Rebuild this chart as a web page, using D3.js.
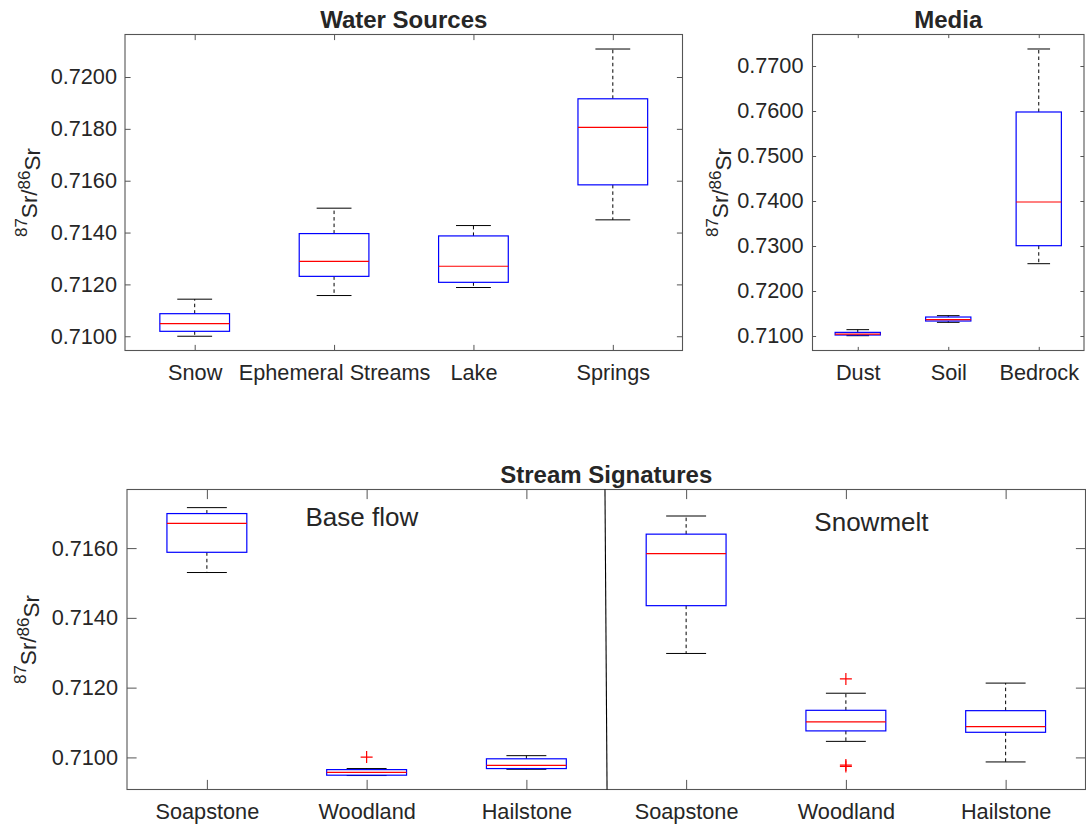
<!DOCTYPE html>
<html><head><meta charset="utf-8">
<script src="https://cdn.jsdelivr.net/npm/d3@7"></script>
<style>
html,body{margin:0;padding:0;background:#fff;}
svg{display:block;}
text{font-family:"Liberation Sans",Arial,Helvetica,sans-serif;fill:#262626;}
</style></head>
<body><svg id="c" width="1086" height="829"></svg>
<script>
// ---------- DATA ----------
// Water Sources
const wsCats = ["Snow", "Ephemeral Streams", "Lake", "Springs"];
const wsLow  = [0.71000, 0.71157, 0.71188, 0.71449];
const wsQ1   = [0.71019, 0.71231, 0.71208, 0.71584];
const wsMed  = [0.71049, 0.71289, 0.71270, 0.71806];
const wsQ3   = [0.71087, 0.71396, 0.71387, 0.71916];
const wsHigh = [0.71143, 0.71494, 0.71427, 0.72108];
const wsOut  = [[], [], [], []];
const wsTicks = [0.7100, 0.7120, 0.7140, 0.7160, 0.7180, 0.7200];
const wsDomain = [0.70945, 0.72164];

// Media
const mdCats = ["Dust", "Soil", "Bedrock"];
const mdLow  = [0.71007, 0.71304, 0.72607];
const mdQ1   = [0.71022, 0.71333, 0.73007];
const mdMed  = [0.71044, 0.71363, 0.73978];
const mdQ3   = [0.71081, 0.71422, 0.75978];
const mdHigh = [0.71141, 0.71452, 0.77378];
const mdOut  = [[], [], []];
const mdTicks = [0.7100, 0.7200, 0.7300, 0.7400, 0.7500, 0.7600, 0.7700];
const mdDomain = [0.70678, 0.77700];

// Stream Signatures (Base flow: 1-3, Snowmelt: 4-6)
const ssCats = ["Soapstone", "Woodland", "Hailstone", "Soapstone", "Woodland", "Hailstone"];
const ssLow  = [0.71530, 0.70948, 0.70966, 0.71298, 0.71046, 0.70987];
const ssQ1   = [0.71588, 0.70949, 0.70968, 0.71435, 0.71076, 0.71072];
const ssMed  = [0.71671, 0.70957, 0.70977, 0.71584, 0.71102, 0.71088];
const ssQ3   = [0.71699, 0.70965, 0.70996, 0.71640, 0.71135, 0.71134];
const ssHigh = [0.71716, 0.70968, 0.71005, 0.71692, 0.71184, 0.71213];
const ssOut  = [[], [0.71001], [], [], [0.71225, 0.70978, 0.70974], []];
const ssTicks = [0.7100, 0.7120, 0.7140, 0.7160];
const ssDomain = [0.70908, 0.71768];
const ssGroups = ["Base flow", "Snowmelt"];
const ssDivider = [3.492, 3.505]; // x at top, x at bottom

// ---------- DRAW ----------
const svg = d3.select("#c");
const AX = "#555";

function panel(o){
  const g = svg.append("g");
  const n = o.cats.length;
  const x = d3.scaleLinear().domain([0.5, n + 0.5]).range([o.x0, o.x1]);
  const y = d3.scaleLinear().domain(o.domain).range([o.y1, o.y0]);
  const tl = o.tick;
  const pos = d3.range(1, n + 1);

  const styleAxis = sel => {
    sel.select(".domain").remove();
    sel.selectAll(".tick line").attr("stroke", AX).attr("stroke-width", 1);
    sel.selectAll("text").style("font-size", "21.7px").attr("fill", "#262626");
  };
  g.append("g").attr("transform", `translate(${o.x0},0)`)
    .call(d3.axisLeft(y).tickValues(o.ticks).tickFormat(d3.format(".4f")).tickSizeInner(-tl).tickSizeOuter(0).tickPadding(o.ypad))
    .call(styleAxis);
  g.append("g").attr("transform", `translate(${o.x1},0)`)
    .call(d3.axisRight(y).tickValues(o.ticks).tickFormat("").tickSizeInner(-tl).tickSizeOuter(0))
    .call(styleAxis);
  g.append("g").attr("transform", `translate(0,${o.y1})`)
    .call(d3.axisBottom(x).tickValues(pos).tickFormat((d,i)=>o.cats[i]).tickSizeInner(-tl).tickSizeOuter(0).tickPadding(o.xpad))
    .call(styleAxis);
  g.append("g").attr("transform", `translate(0,${o.y0})`)
    .call(d3.axisTop(x).tickValues(pos).tickFormat("").tickSizeInner(-tl).tickSizeOuter(0))
    .call(styleAxis);

  g.append("rect").attr("x", o.x0).attr("y", o.y0).attr("width", o.x1 - o.x0).attr("height", o.y1 - o.y0)
    .attr("fill", "none").attr("stroke", AX).attr("stroke-width", 1.1);

  const bw = 0.25, cw = 0.125;
  const b = g.append("g");
  pos.forEach((p, i) => {
    b.append("line").attr("x1", x(p)).attr("x2", x(p)).attr("y1", y(o.q3[i])).attr("y2", y(o.high[i]))
      .attr("stroke", "#000").attr("stroke-width", 1).attr("stroke-dasharray", "3.5,3");
    b.append("line").attr("x1", x(p)).attr("x2", x(p)).attr("y1", y(o.q1[i])).attr("y2", y(o.low[i]))
      .attr("stroke", "#000").attr("stroke-width", 1).attr("stroke-dasharray", "3.5,3");
    [o.high[i], o.low[i]].forEach(v => {
      b.append("line").attr("x1", x(p - cw)).attr("x2", x(p + cw)).attr("y1", y(v)).attr("y2", y(v))
        .attr("stroke", "#000").attr("stroke-width", 1);
    });
    b.append("rect").attr("x", x(p - bw)).attr("y", y(o.q3[i])).attr("width", x(p + bw) - x(p - bw))
      .attr("height", Math.max(0.5, y(o.q1[i]) - y(o.q3[i])))
      .attr("fill", "none").attr("stroke", "#0000ff").attr("stroke-width", 1.2);
    b.append("line").attr("x1", x(p - bw)).attr("x2", x(p + bw)).attr("y1", y(o.med[i])).attr("y2", y(o.med[i]))
      .attr("stroke", "#ff0000").attr("stroke-width", 1.2);
    o.out[i].forEach(v => {
      const cx = x(p), cy = y(v), s = 6;
      b.append("path").attr("d", `M${cx - s},${cy}H${cx + s}M${cx},${cy - s}V${cy + s}`)
        .attr("stroke", "#ff0000").attr("stroke-width", 1.2).attr("fill", "none");
    });
  });

  g.append("text").attr("x", (o.x0 + o.x1) / 2).attr("y", o.y0 - 6.5).attr("text-anchor", "middle")
    .style("font-size", "24px").style("font-weight", "bold").attr("fill", "#000").text(o.title);

  const yl = g.append("text").attr("transform", `translate(${o.ylx},${(o.y0 + o.y1) / 2}) rotate(-90)`)
    .attr("text-anchor", "middle").style("font-size", "22.5px");
  yl.append("tspan").attr("dy", "-0.45em").style("font-size", "17px").text("87");
  yl.append("tspan").attr("dy", "0.45em").text("Sr/");
  yl.append("tspan").attr("dy", "-0.45em").style("font-size", "17px").text("86");
  yl.append("tspan").attr("dy", "0.45em").text("Sr");
  return {g, x, y};
}

panel({x0:125, x1:682.5, y0:34.5, y1:350.5, cats:wsCats, low:wsLow, q1:wsQ1, med:wsMed, q3:wsQ3, high:wsHigh, out:wsOut,
  ticks:wsTicks, domain:wsDomain, tick:5.6, ypad:8, xpad:14.5, title:"Water Sources", ylx:35});
panel({x0:812.5, x1:1084, y0:34.5, y1:350.5, cats:mdCats, low:mdLow, q1:mdQ1, med:mdMed, q3:mdQ3, high:mdHigh, out:mdOut,
  ticks:mdTicks, domain:mdDomain, tick:3.6, ypad:9, xpad:14.5, title:"Media", ylx:726});
const ss = panel({x0:127, x1:1085.5, y0:489.5, y1:789.5, cats:ssCats, low:ssLow, q1:ssQ1, med:ssMed, q3:ssQ3, high:ssHigh, out:ssOut,
  ticks:ssTicks, domain:ssDomain, tick:9.6, ypad:9, xpad:13.7, title:"Stream Signatures", ylx:34});

ss.g.append("line").attr("x1", ss.x(ssDivider[0])).attr("y1", ss.y(ssDomain[1]))
  .attr("x2", ss.x(ssDivider[1])).attr("y2", ss.y(ssDomain[0])).attr("stroke", "#000").attr("stroke-width", 1.1);
ss.g.append("text").attr("x", ss.x(1.97)).attr("y", 526).attr("text-anchor", "middle")
  .style("font-size", "26px").attr("fill", "#000").text(ssGroups[0]);
ss.g.append("text").attr("x", ss.x(5.16)).attr("y", 530.5).attr("text-anchor", "middle")
  .style("font-size", "26px").attr("fill", "#000").text(ssGroups[1]);
</script></body></html>
